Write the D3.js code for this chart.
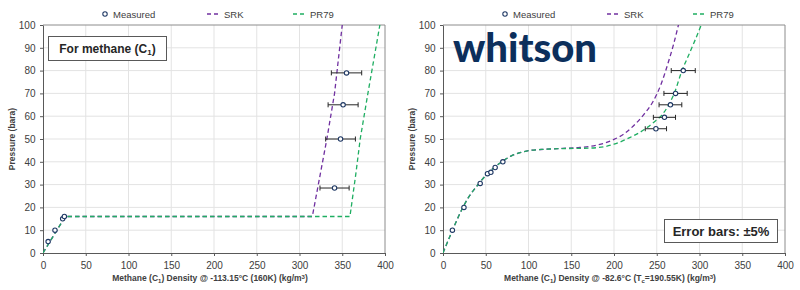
<!DOCTYPE html>
<html>
<head>
<meta charset="utf-8">
<script src="https://cdn.jsdelivr.net/npm/d3@7"></script>
<style>
  body { margin: 0; background: #fff; }
  svg { font-family: "Liberation Sans", Arial, sans-serif; }
</style>
</head>
<body>
<div id="chart"></div>
<script>
// ---- data: left panel, T = 160K
var leftMeasured = [
    [6, 5], [14, 10], [23, 15], [25, 16],
    [341, 28.5], [348, 50], [351, 65], [355, 79]
]
var leftSRK = [[0, 0], [26, 16], [315, 16], [322, 30], [332, 50], [341, 70], [350, 100]]
var leftPR79 = [[0, 0], [26, 16], [359, 16], [366, 35], [371, 50], [380, 70], [394, 100]]

// ---- data: right panel, T = 190.55K
var rightMeasured = [
    [11, 10], [24.5, 20], [43.5, 30.5], [52, 34.8], [56, 35.4], [61, 37.5], [70, 40],
    [249, 54.5], [259, 59.5], [266, 65], [272, 70], [281, 80]
]
var rightSRK = [
    [0, 0], [10, 9], [20, 17.5], [30, 24.5], [40, 29.5], [50, 34], [60, 37.5], [70, 40.3],
    [80, 42.6], [90, 44], [100, 44.9], [120, 45.5], [140, 45.9], [160, 46.3], [180, 47.3],
    [200, 49.8], [212, 52.3], [222, 55.5], [235, 60.8], [245, 66], [255, 74], [263, 83],
    [270, 92], [276, 101]
]
var rightPR79 = [
    [0, 0], [10, 9], [20, 17.5], [30, 24.5], [40, 29.5], [50, 34], [60, 37.5], [70, 40.3],
    [80, 42.6], [90, 44], [100, 44.9], [120, 45.5], [140, 45.8], [160, 45.9], [180, 46.2],
    [200, 47.7], [215, 50], [236, 54.3], [247, 57.5], [256, 60.5], [264, 65], [271, 70.5],
    [279, 79.5], [287, 86.5], [295, 93.5], [302, 100]
]

var xTicks = [0, 50, 100, 150, 200, 250, 300, 350, 400]
var yTicks = [0, 10, 20, 30, 40, 50, 60, 70, 80, 90, 100]
var errFrac = 0.05

var colors = {
    measured: "#1f3864",
    srk: "#7030a0",
    pr79: "#1fae62",
    grid: "#e3e3e3",
    frame: "#8c8c8c",
    axis: "#595959",
    text: "#404040"
}

var width = 800, height = 290
var svg = d3.select("#chart").append("svg")
    .attr("width", width)
    .attr("height", height)

function drawPanel(opts) {
    var x = d3.scaleLinear().domain([0, 400]).range([opts.left, opts.left + 342])
    var y = d3.scaleLinear().domain([0, 100]).range([253, 25])

    var g = svg.append("g")
    var clipId = "clip" + opts.id
    g.append("clipPath").attr("id", clipId)
        .append("rect")
        .attr("x", x(0)).attr("y", y(100))
        .attr("width", x(400) - x(0)).attr("height", y(0) - y(100))

    // gridlines
    g.append("g").selectAll("line.vg")
        .data(xTicks.slice(1, -1)).enter().append("line")
        .attr("x1", d => x(d)).attr("x2", d => x(d))
        .attr("y1", y(0)).attr("y2", y(100))
        .attr("stroke", colors.grid)
    g.append("g").selectAll("line.hg")
        .data(yTicks.slice(1, -1)).enter().append("line")
        .attr("x1", x(0)).attr("x2", x(400))
        .attr("y1", d => y(d)).attr("y2", d => y(d))
        .attr("stroke", colors.grid)

    // frame (top / right)
    g.append("path")
        .attr("d", `M${x(0)},${y(100)}H${x(400)}V${y(0)}`)
        .attr("fill", "none")
        .attr("stroke", colors.frame)

    // axes
    var xAxis = g.append("g")
        .attr("transform", `translate(0,${y(0)})`)
        .call(d3.axisBottom(x).tickValues(xTicks).tickSize(3).tickSizeOuter(0))
    var yAxis = g.append("g")
        .attr("transform", `translate(${x(0)},0)`)
        .call(d3.axisLeft(y).tickValues(yTicks).tickSize(3).tickSizeOuter(0))
    ;[xAxis, yAxis].forEach(a => {
        a.select(".domain").attr("stroke", colors.axis)
        a.selectAll(".tick line").attr("stroke", colors.axis)
        a.selectAll("text").attr("fill", colors.text).style("font-size", "10px")
    })
    xAxis.selectAll("text").attr("dy", "0.95em")
    yAxis.selectAll("text").attr("dx", "-0.15em")

    // axis titles
    var xt = g.append("text")
        .attr("x", (x(0) + x(400)) / 2 - 4)
        .attr("y", 281)
        .attr("text-anchor", "middle")
        .attr("fill", colors.text)
        .style("font-size", "8.5px")
        .style("font-weight", "bold")
    opts.xTitle.forEach(part => {
        var ts = xt.append("tspan").text(part.t)
        if (part.sub) ts.attr("baseline-shift", "-25%").style("font-size", "6px")
        if (part.sup) ts.attr("baseline-shift", "35%").style("font-size", "6px")
    })

    g.append("text")
        .attr("transform", `translate(${opts.left - 28},${(y(0) + y(100)) / 2}) rotate(-90)`)
        .attr("text-anchor", "middle")
        .attr("fill", colors.text)
        .style("font-size", "8.5px")
        .style("font-weight", "bold")
        .text("Pressure (bara)")

    // model lines
    var line = d3.line().x(d => x(d[0])).y(d => y(d[1])).curve(opts.curve)
    var lines = g.append("g").attr("clip-path", `url(#${clipId})`)
    lines.append("path").datum(opts.srk)
        .attr("d", line).attr("fill", "none")
        .attr("stroke", colors.srk).attr("stroke-width", 1.3)
        .attr("stroke-dasharray", "4.5,3")
    lines.append("path").datum(opts.pr79)
        .attr("d", line).attr("fill", "none")
        .attr("stroke", colors.pr79).attr("stroke-width", 1.3)
        .attr("stroke-dasharray", "4.5,3")

    // error bars
    var eb = g.append("g").selectAll("g")
        .data(opts.measured.filter(d => d[0] > 150)).enter().append("g")
        .attr("stroke", "#262626").attr("stroke-width", 1)
    eb.append("line")
        .attr("x1", d => x(d[0] * (1 - errFrac))).attr("x2", d => x(d[0] * (1 + errFrac)))
        .attr("y1", d => y(d[1])).attr("y2", d => y(d[1]))
    eb.append("line")
        .attr("x1", d => x(d[0] * (1 - errFrac))).attr("x2", d => x(d[0] * (1 - errFrac)))
        .attr("y1", d => y(d[1]) - 2.5).attr("y2", d => y(d[1]) + 2.5)
    eb.append("line")
        .attr("x1", d => x(d[0] * (1 + errFrac))).attr("x2", d => x(d[0] * (1 + errFrac)))
        .attr("y1", d => y(d[1]) - 2.5).attr("y2", d => y(d[1]) + 2.5)

    // measured points
    g.append("g").selectAll("circle")
        .data(opts.measured).enter().append("circle")
        .attr("cx", d => x(d[0])).attr("cy", d => y(d[1]))
        .attr("r", 2.2)
        .attr("fill", "#fff")
        .attr("stroke", colors.measured)
        .attr("stroke-width", 1.1)

    // legend
    var lg = g.append("g").attr("transform", `translate(${opts.left},14)`)
    lg.append("circle").attr("cx", 62).attr("cy", 0).attr("r", 2.2)
        .attr("fill", "#fff").attr("stroke", colors.measured).attr("stroke-width", 1.1)
    lg.append("text").attr("x", 70).attr("y", 3.5).text("Measured")
    lg.append("line").attr("x1", 164).attr("x2", 177).attr("y1", 0).attr("y2", 0)
        .attr("stroke", colors.srk).attr("stroke-width", 1.3).attr("stroke-dasharray", "4,3")
    lg.append("text").attr("x", 181).attr("y", 3.5).text("SRK")
    lg.append("line").attr("x1", 250).attr("x2", 264).attr("y1", 0).attr("y2", 0)
        .attr("stroke", colors.pr79).attr("stroke-width", 1.3).attr("stroke-dasharray", "4,3")
    lg.append("text").attr("x", 267).attr("y", 3.5).text("PR79")
    lg.selectAll("text").attr("fill", colors.text).style("font-size", "9.5px")

    return g
}

var left = drawPanel({
    id: "L", left: 43,
    measured: leftMeasured, srk: leftSRK, pr79: leftPR79,
    curve: d3.curveLinear,
    xTitle: [{t: "Methane (C"}, {t: "1", sub: true}, {t: ") Density @ -113.15\u00B0C (160K) (kg/m"}, {t: "3", sup: true}, {t: ")"}]
})

var right = drawPanel({
    id: "R", left: 443,
    measured: rightMeasured, srk: rightSRK, pr79: rightPR79,
    curve: d3.curveMonotoneX,
    xTitle: [{t: "Methane (C"}, {t: "1", sub: true}, {t: ") Density @ -82.6\u00B0C (T"}, {t: "c", sub: true}, {t: "=190.55K) (kg/m"}, {t: "3", sup: true}, {t: ")"}]
})

// annotation boxes
left.append("rect")
    .attr("x", 48.5).attr("y", 36.5).attr("width", 118).attr("height", 24)
    .attr("fill", "#fff").attr("stroke", "#595959").attr("stroke-width", 1)
var lt = left.append("text").attr("x", 107.5).attr("y", 53)
    .attr("text-anchor", "middle").attr("fill", "#262626")
    .style("font-size", "12px").style("font-weight", "bold")
lt.append("tspan").text("For methane (C")
lt.append("tspan").text("1").attr("baseline-shift", "-25%").style("font-size", "8px")
lt.append("tspan").text(")")

right.append("rect")
    .attr("x", 664.5).attr("y", 219.5).attr("width", 113).attr("height", 23)
    .attr("fill", "#fff").attr("stroke", "#595959").attr("stroke-width", 1)
right.append("text").attr("x", 721).attr("y", 236)
    .attr("text-anchor", "middle").attr("fill", "#262626")
    .style("font-size", "13px").style("font-weight", "bold")
    .text("Error bars: \u00B15%")

// logo
right.append("text")
    .attr("x", 453).attr("y", 62)
    .attr("fill", "#0c2f5c")
    .attr("textLength", 144).attr("lengthAdjust", "spacingAndGlyphs")
    .style("font-family", "Lato, 'Open Sans', sans-serif")
    .style("font-size", "40px").style("font-weight", "900")
    .text("whitson")
</script>
</body>
</html>
